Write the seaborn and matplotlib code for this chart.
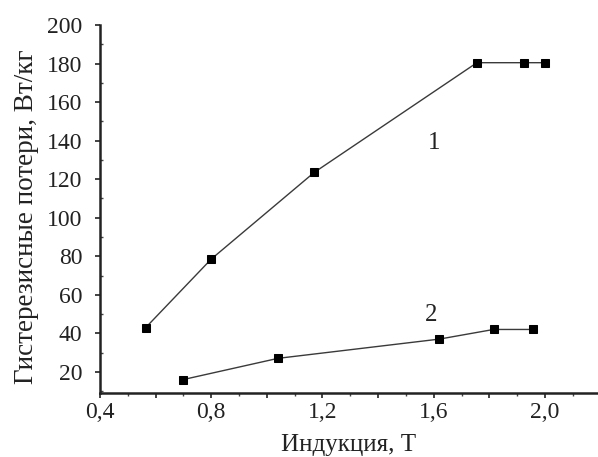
import matplotlib
matplotlib.use("Agg")
import matplotlib.pyplot as plt
import matplotlib.ticker as mticker
import seaborn as sns
import pandas as pd

# Hysteresis losses vs. induction for two samples
b_curve1 = [0.565, 0.80, 1.17, 1.755, 1.925, 2.00]
p_curve1 = [43, 78.5, 123.5, 180.5, 180.5, 180.5]
b_curve2 = [0.70, 1.04, 1.62, 1.815, 1.955]
p_curve2 = [16, 27, 37, 42, 42]
x_labels = ["0,4", "0,8", "1,2", "1,6", "2,0"]

sns.set_theme(style="ticks")
plt.rcParams["font.family"] = ["Liberation Serif", "DejaVu Serif"]

df1 = pd.DataFrame({"B": b_curve1, "P": p_curve1})
df2 = pd.DataFrame({"B": b_curve2, "P": p_curve2})

fig = plt.figure(figsize=(5.98, 4.57), dpi=100)
ax = fig.add_axes([0.167, 0.140, 0.833, 0.805])

for df in (df1, df2):
    sns.lineplot(data=df, x="B", y="P", ax=ax, color="#3a3a3a", linewidth=1.0,
                 marker="s", markersize=5.5, markerfacecolor="black",
                 markeredgecolor="black", sort=False)

ax.set_xlim(0.4, 2.19)
ax.set_ylim(9, 200)

ax.xaxis.set_major_locator(mticker.MultipleLocator(0.2))
ax.xaxis.set_minor_locator(mticker.MultipleLocator(0.1))
labels_map = {round(0.4 + 0.4 * i, 1): t for i, t in enumerate(x_labels)}
ax.xaxis.set_major_formatter(mticker.FuncFormatter(
    lambda v, p: labels_map.get(round(v, 1), "")))
ax.set_yticks(list(range(20, 201, 20)))
ax.yaxis.set_minor_locator(mticker.MultipleLocator(10))

ax.tick_params(axis="both", which="major", direction="out", length=3.5,
               width=1.2, labelsize=17, colors="#222222")
ax.tick_params(axis="x", which="major", pad=3)
ax.tick_params(axis="y", which="major", pad=9)
ax.tick_params(axis="x", which="minor", direction="out", length=2,
               width=1.0, colors="#444444")
ax.tick_params(axis="y", which="minor", direction="in", length=2,
               width=1.0, colors="#444444")

for side in ("top", "right"):
    ax.spines[side].set_visible(False)
for side in ("left", "bottom"):
    ax.spines[side].set_linewidth(1.8)
    ax.spines[side].set_color("#222222")

ax.set_xlabel("Индукция, Т", fontsize=18, color="#222222", labelpad=8)
ax.set_ylabel("Гистерезисные потери, Вт/кг", fontsize=19.5, color="#222222")
ax.yaxis.set_label_coords(-0.122, 0.48)

ax.text(1.60, 139, "1", fontsize=18, color="#222222", ha="center", va="center")
ax.text(1.59, 49.5, "2", fontsize=18, color="#222222", ha="center", va="center")

fig.savefig("out.png", dpi=100)
